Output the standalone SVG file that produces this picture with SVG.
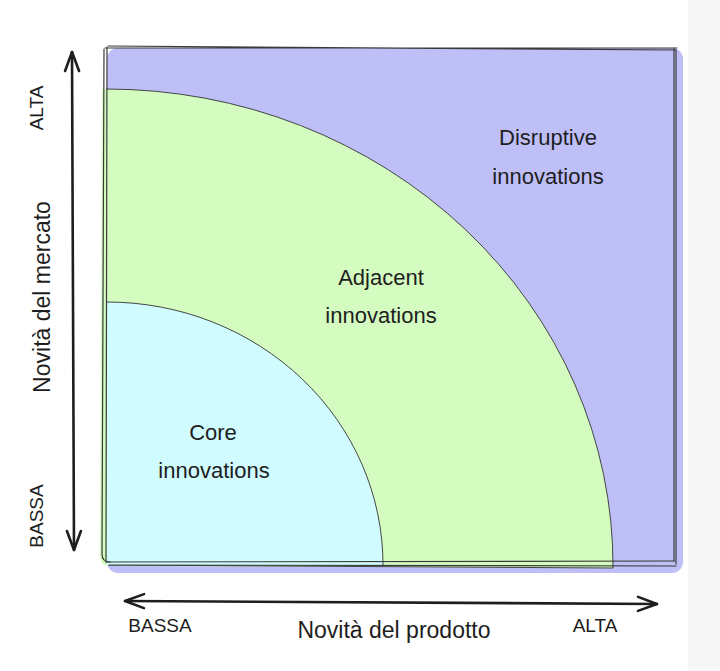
<svg xmlns="http://www.w3.org/2000/svg" width="720" height="671" viewBox="0 0 720 671">
  <style>
    .lbl { font-family: "Liberation Sans", "DejaVu Sans", sans-serif; font-size: 22px; fill: #1e1e1e; text-anchor: middle; }
    .axis { font-family: "Liberation Sans", "DejaVu Sans", sans-serif; font-size: 23px; fill: #1e1e1e; text-anchor: middle; }
    .tick { font-family: "Liberation Sans", "DejaVu Sans", sans-serif; font-size: 19px; fill: #1e1e1e; text-anchor: middle; }
    .edge { fill: none; stroke: #333; stroke-width: 0.9; }
    .frame { fill: none; stroke: #3a3a3a; stroke-width: 1.2; stroke-linecap: round; }
    .arrow { fill: none; stroke: #1e1e1e; stroke-width: 2.6; stroke-linecap: round; }
  </style>
  <defs>
    <marker id="head" markerUnits="userSpaceOnUse" markerWidth="26" markerHeight="22" viewBox="0 0 26 22" refX="23" refY="11" orient="auto-start-reverse">
      <path d="M4,4 L23,11 L4,18" fill="none" stroke="#1e1e1e" stroke-width="2.6" stroke-linecap="round" stroke-linejoin="round"/>
    </marker>
  </defs>
  <rect x="0" y="0" width="720" height="671" fill="#ffffff"/>
  <rect x="688" y="0" width="32" height="671" fill="#f7f7f7"/>

  <g id="region-disruptive">
    <rect x="107" y="48" width="576" height="525" rx="11" fill="#bfbff8"/>
    <text class="lbl" x="548" y="145">Disruptive</text>
    <text class="lbl" x="548" y="184">innovations</text>
  </g>

  <g id="region-adjacent">
    <path d="M106,89 A507,477 0 0 1 613,568 L110,566 Q100,566 100,556 L102,89 Z" fill="#d4fcc0"/>
    <path class="edge" d="M106,89 A507,477 0 0 1 613,568 L108,565"/>
    <text class="lbl" x="381" y="285">Adjacent</text>
    <text class="lbl" x="381" y="323">innovations</text>
  </g>

  <g id="region-core">
    <path d="M107,302 A276,263 0 0 1 383,565 L107,565 Z" fill="#d0fbff"/>
    <path class="edge" d="M107,302 A276,263 0 0 1 383,565"/>
    <text class="lbl" x="213" y="440">Core</text>
    <text class="lbl" x="214" y="478">innovations</text>
  </g>

  <g id="frame">
    <path class="frame" d="M105,48 L677,48 M108,46 L676,50"/>
    <path class="frame" d="M104,49 L102,554 Q102,562 110,562 M107,47 L106,562"/>
    <path class="frame" d="M674,48 L674,561 M676,50 L676,564" stroke-width="1.6"/>
    <path class="frame" d="M106,562 L674,561 M109,565 L676,566"/>
  </g>

  <g id="connectors">
    <path class="arrow" d="M72,52 L74,550" marker-start="url(#head)" marker-end="url(#head)"/>
    <path class="arrow" d="M125,601 L657,604" marker-start="url(#head)" marker-end="url(#head)"/>
  </g>

  <g id="axis-labels">
    <text class="tick" transform="translate(43,108) rotate(-90)">ALTA</text>
    <text class="axis" transform="translate(50,297) rotate(-90)">Novità del mercato</text>
    <text class="tick" transform="translate(43,516) rotate(-90)">BASSA</text>
    <text class="tick" x="160" y="632">BASSA</text>
    <text class="axis" x="394" y="638">Novità del prodotto</text>
    <text class="tick" x="595" y="632">ALTA</text>
  </g>
</svg>
